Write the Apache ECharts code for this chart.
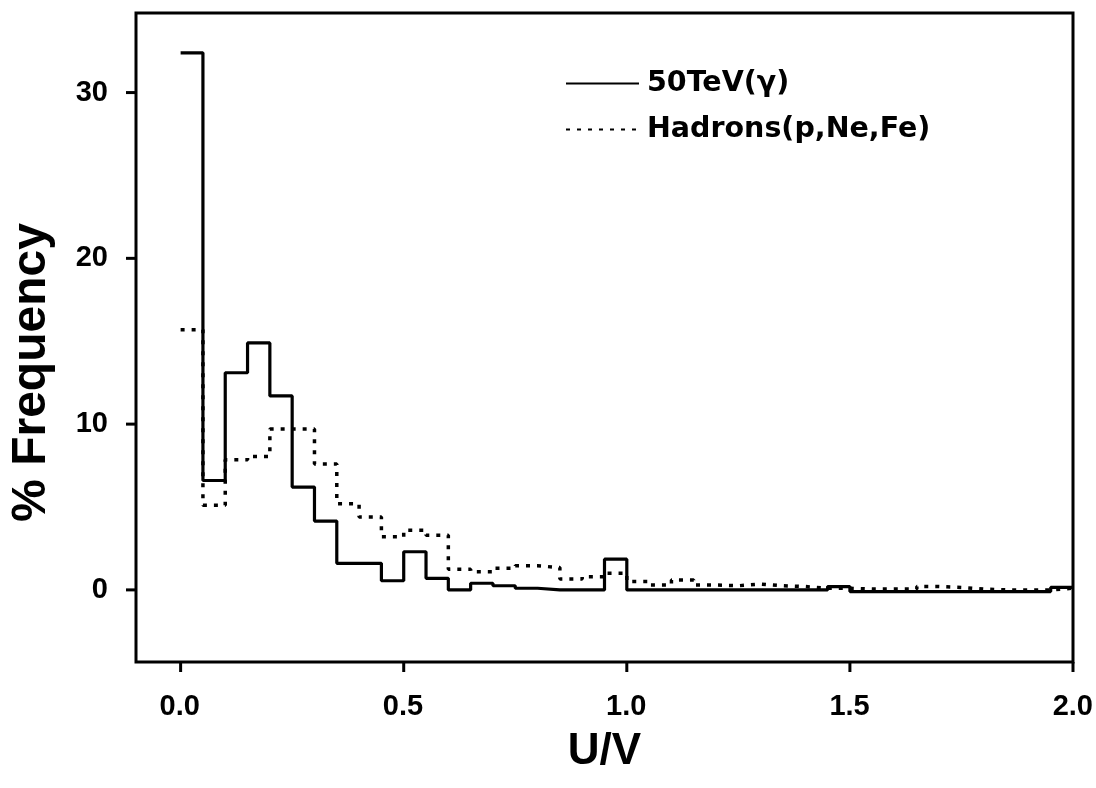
<!DOCTYPE html>
<html>
<head>
<meta charset="utf-8">
<script src="https://cdn.jsdelivr.net/npm/echarts@6/dist/echarts.min.js"></script>
<style>
html,body{margin:0;padding:0;background:#fff;}
#c{width:1096px;height:788px;}
</style>
</head>
<body>
<div id="c"></div>
<script>
// Bin edges: 0.00 .. 2.00 in steps of 0.05 (left edges listed)
var binLeftEdges = [0.00,0.05,0.10,0.15,0.20,0.25,0.30,0.35,0.40,0.45,
                    0.50,0.55,0.60,0.65,0.70,0.75,0.80,0.85,0.90,0.95,
                    1.00,1.05,1.10,1.15,1.20,1.25,1.30,1.35,1.40,1.45,
                    1.50,1.55,1.60,1.65,1.70,1.75,1.80,1.85,1.90,1.95];
var lastEdge = 2.00;
var gammaValues = [32.4,6.6,13.1,14.9,11.7,6.2,4.15,1.6,1.6,0.55,
                   2.3,0.7,0.0,0.4,0.25,0.1,0.0,0.0,0.0,1.85,
                   0.0,0.0,0.0,0.0,0.0,0.0,0.0,0.0,0.0,0.2,
                   -0.1,-0.1,-0.1,-0.1,-0.1,-0.1,-0.1,-0.1,-0.1,0.15];
var hadronValues = [15.7,5.1,7.85,8.05,9.7,9.7,7.6,5.2,4.4,3.2,
                    3.6,3.3,1.25,1.1,1.3,1.45,1.35,0.65,0.8,1.0,
                    0.5,0.3,0.6,0.3,0.25,0.35,0.25,0.2,0.1,0.1,
                    0.05,0.05,0.05,0.2,0.15,0.05,0.0,0.0,0.0,0.1];
var xTickValues = [0, 0.5, 1.0, 1.5, 2.0];
var yTickValues = [0, 10, 20, 30];
var seriesNames = ['50TeV(\u03b3)', 'Hadrons(p,Ne,Fe)'];

function steps(vals){
  var pts = [];
  for (var i=0;i<vals.length;i++) pts.push([binLeftEdges[i], vals[i]]);
  pts.push([lastEdge, vals[vals.length-1]]);
  return pts;
}

// Layout of the plot frame (pixels) and axis ranges
var W = 1096, H = 788;
var gL = 135, gR = 23, gT = 13, gB = 126, tickLen = 10;
var xMin = -0.1, xMax = 2.0, yMin = -4.35, yMax = 34.8;
var pxPerX = (W - gL - gR) / (xMax - xMin);
var pxPerY = (H - gT - gB) / (yMax - yMin);

var chart = echarts.init(document.getElementById('c'), null, {renderer:'canvas'});
var tickFont = {fontFamily:'Liberation Sans, Arial, sans-serif', fontWeight:'bold', fontSize:29, color:'#000'};
chart.setOption({
  animation:false,
  backgroundColor:'#fff',
  grid:[
    {left:gL, right:gR, top:gT, bottom:gB, show:true, borderColor:'#000', borderWidth:3, backgroundColor:'transparent'},
    // label grid: extends tickLen px beyond the frame on the left and bottom, same scale
    {left:gL - tickLen, right:gR, top:gT, bottom:gB - tickLen, show:false}
  ],
  legend:{
    left:565, top:69, padding:0, orient:'vertical', itemWidth:73, itemHeight:14, itemGap:17,
    itemStyle:{opacity:0},
    data:[
      {name:seriesNames[0]},
      {name:seriesNames[1]}
    ],
    textStyle:{fontFamily:'DejaVu Sans', fontWeight:'bold', fontSize:28.5, color:'#000', padding:[0,0,0,3]}
  },
  xAxis:[
    {
      type:'value', gridIndex:0, min:xMin, max:xMax,
      name:'U/V', nameLocation:'middle', nameGap:68,
      nameTextStyle:{fontFamily:'Liberation Sans, Arial, sans-serif', fontWeight:'bold', fontSize:44, color:'#000'},
      axisLine:{show:false, onZero:false}, axisTick:{show:false}, axisLabel:{show:false}, splitLine:{show:false}
    },
    {
      type:'value', gridIndex:1, min:xMax - (W - (gL - tickLen) - gR) / pxPerX, max:xMax,
      axisLine:{show:false, onZero:false},
      axisTick:{show:false},
      axisLabel:Object.assign({margin:20, customValues:xTickValues, formatter:function(v){return v.toFixed(1);}}, tickFont),
      splitLine:{show:false}
    }
  ],
  yAxis:[
    {
      type:'value', gridIndex:0, min:yMin, max:yMax,
      name:'% Frequency', nameLocation:'middle', nameGap:80, nameRotate:90,
      nameTextStyle:{fontFamily:'Liberation Sans, Arial, sans-serif', fontWeight:'bold', fontSize:48, color:'#000', padding:[0,70,0,0]},
      axisLine:{show:false, onZero:false}, axisTick:{show:false}, axisLabel:{show:false}, splitLine:{show:false}
    },
    {
      type:'value', gridIndex:1, min:yMax - (H - gT - (gB - tickLen)) / pxPerY, max:yMax,
      axisLine:{show:false, onZero:false},
      axisTick:{show:false},
      axisLabel:Object.assign({margin:17, customValues:yTickValues}, tickFont),
      splitLine:{show:false}
    }
  ],
  series:[
    {
      name:seriesNames[1], type:'line', step:'end', data:steps(hadronValues),
      xAxisIndex:0, yAxisIndex:0,
      symbol:'none', showSymbol:false, z:2,
      lineStyle:{color:'#000', width:3.5, type:[4,7], cap:'butt'},
      itemStyle:{color:'#000'}
    },
    {
      name:seriesNames[0], type:'line', step:'end', data:steps(gammaValues),
      xAxisIndex:0, yAxisIndex:0,
      symbol:'none', showSymbol:false, z:3,
      lineStyle:{color:'#000', width:3.2, type:'solid'},
      itemStyle:{color:'#000'}
    }
  ]
});

// Tick marks outside the frame, positioned through the chart's own scale
var tickGraphics = [];
xTickValues.forEach(function(v){
  var p = chart.convertToPixel({xAxisIndex:0, yAxisIndex:0}, [v, yMin]);
  tickGraphics.push({type:'line', silent:true, z:10,
    shape:{x1:p[0], y1:p[1], x2:p[0], y2:p[1] + tickLen},
    style:{stroke:'#000', lineWidth:3}});
});
yTickValues.forEach(function(v){
  var p = chart.convertToPixel({xAxisIndex:0, yAxisIndex:0}, [xMin, v]);
  tickGraphics.push({type:'line', silent:true, z:10,
    shape:{x1:p[0] - tickLen, y1:p[1], x2:p[0], y2:p[1]},
    style:{stroke:'#000', lineWidth:3}});
});
chart.setOption({graphic:tickGraphics});
</script>
</body>
</html>
